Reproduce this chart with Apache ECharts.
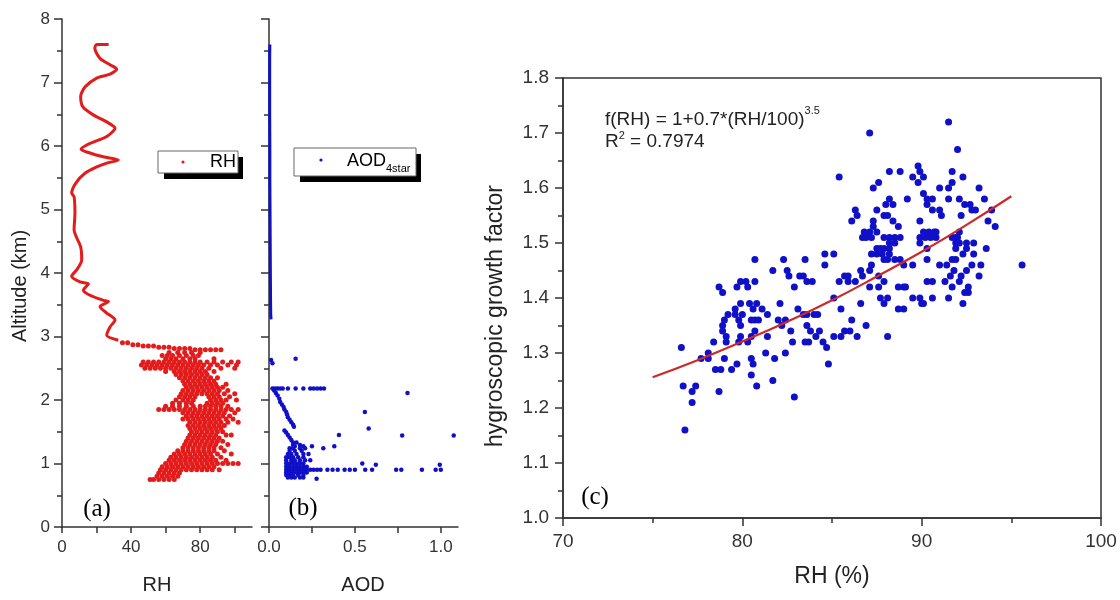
<!DOCTYPE html>
<html><head><meta charset="utf-8">
<script src="https://cdn.jsdelivr.net/npm/echarts@6/dist/echarts.min.js"></script>
<style>html,body{margin:0;padding:0;background:#fff}#c{width:1120px;height:600px}</style>
</head><body><div id="c"></div>
<script>
// ---------- Panel (a): RH profile [RH, altitude km] ----------
const rhUpperCurve = [[27,7.60],[20,7.60],[19,7.54],[22,7.38],[27.8,7.28],[31.7,7.21],[27.8,7.13],[20.1,7.07],[13.3,6.93],[10.8,6.78],[12,6.62],[18.1,6.49],[25.9,6.38],[30.7,6.28],[25.9,6.15],[16.2,6.04],[11,5.95],[16.2,5.89],[23.9,5.83],[32.6,5.78],[25.9,5.73],[20.1,5.67],[13.3,5.57],[8.1,5.42],[5.6,5.26],[7,5.2],[7.5,4.94],[7,4.68],[10.8,4.41],[11.4,4.2],[8.5,4.05],[5.6,3.95],[10.4,3.86],[15.3,3.83],[12.4,3.73],[16.2,3.65],[23.9,3.57],[26.9,3.55],[22,3.47],[25.9,3.37],[30.7,3.26],[27.8,3.15],[25.9,3.02],[32.6,2.94]];
// rows of the dense low-level cloud: [altitude, [RH values]]
const rhLowRows = [
 [2.90,[35,38]],[2.87,[41,44]],[2.85,[47,50,53]],[2.83,[56,59,62]],[2.81,[65,68,71,74]],[2.79,[77,80,83,86,89,92]],
 [2.75,[62,67,71,75,80]],[2.70,[58,61,64,68,72,76,79]],[2.65,[60,63,66,70,74,77,88]],
 [2.60,[47,50,53,56,59,62,65,68,71,74,77,80,84,88,93,98,102]],
 [2.55,[46,49,52,55,58,61,64,67,70,73,76,79,82,86,90,96,101]],
 [2.50,[48,51,54,57,60,63,66,69,72,75,78,81,85,92,100]],
 [2.45,[60,65,68,71,74,77,80,83,88]],[2.40,[66,69,72,75,78,81,84]],[2.35,[68,71,74,77,80,83,86,90]],
 [2.30,[70,73,76,79,82,85,88]],[2.25,[71,74,77,80,83,86,89,95]],[2.20,[72,75,78,81,84,87,90,93]],
 [2.15,[70,73,76,79,82,85,88,91,96]],[2.10,[69,72,75,78,81,84,87,90,94,100]],[2.05,[68,71,74,77,85,88,91,97]],
 [2.00,[66,70,73,76,86,89,92,95,101]],[1.95,[64,68,72,75,84,87,90,93]],[1.90,[60,64,68,72,76,80,83,86,89,92,96]],
 [1.85,[56,59,62,65,68,71,74,77,80,83,86,89,92,95,98,102]],[1.80,[70,73,76,79,82,85,88,91,94,100]],
 [1.75,[72,75,78,81,84,87,90,93,97]],[1.70,[70,73,76,79,82,85,88,91,95,99]],[1.65,[74,77,80,83,86,89,92,96,102]],
 [1.60,[73,76,79,82,85,88,91,94]],[1.55,[74,77,80,83,86,89,92]],[1.50,[75,78,81,84,87,90,93]],
 [1.45,[74,77,80,83,86,89,95,98]],[1.40,[73,76,79,82,85,88,91]],[1.35,[72,75,78,81,84,87,90,93]],
 [1.30,[71,74,77,80,83,86,89,96]],[1.25,[70,73,76,79,82,85,88,92]],[1.20,[67,70,73,76,79,82,85,88,94]],
 [1.15,[65,68,71,74,77,80,83,86,90,98]],[1.10,[63,66,69,72,75,78,81,84,87,92]],[1.05,[62,65,68,71,74,77,80,83,86,89,95]],
 [1.00,[60,63,66,69,72,75,78,81,84,87,90,93,96,99,102]],[0.95,[58,61,64,67,70,73,76,79,82,85,88]],
 [0.90,[57,60,63,66,69,72,75,78,81,84,87,91]],[0.85,[56,59,62,65,68]],[0.80,[55,58,61,64,67]],[0.75,[51,53,56,59,62,65]]
];
const rhTicksX = [0,20,40,60,80,100];
const rhLabelsX = [0,40,80];

// ---------- Panel (b): AOD profile [AOD, altitude km] ----------
const aodUpperLine = [[0.012,3.27],[0.010,3.35],[0.009,3.6],[0.008,4.0],[0.007,4.5],[0.006,5.0],[0.005,5.5],[0.005,6.0],[0.004,6.5],[0.004,7.0],[0.004,7.4],[0.005,7.6]];
const aodLowRows = [
 [2.65,[0.155]],[2.63,[0.012]],[2.58,[0.02]],
 [2.18,[0.02,0.035,0.05,0.065,0.08,0.11,0.155,0.2,0.24,0.26,0.28,0.3,0.32]],
 [2.15,[0.03]],[2.11,[0.04,0.806]],[2.07,[0.05]],[2.02,[0.06]],[1.97,[0.065]],[1.93,[0.075]],[1.89,[0.085]],
 [1.85,[0.09]],[1.81,[0.1,0.558]],[1.77,[0.105]],[1.73,[0.11]],[1.69,[0.12]],[1.65,[0.13]],[1.61,[0.14]],
 [1.58,[0.145]],[1.55,[0.58]],[1.52,[0.09]],[1.49,[0.1]],[1.45,[0.11,0.407]],[1.44,[0.775,1.075]],
 [1.41,[0.12]],[1.37,[0.13]],[1.33,[0.14,0.16]],[1.29,[0.14,0.18]],[1.27,[0.15,0.2,0.25,0.38]],
 [1.24,[0.12,0.14,0.18,0.21,0.316]],[1.20,[0.12,0.15,0.19]],[1.15,[0.11,0.13,0.16,0.2,0.23]],
 [1.10,[0.1,0.12,0.14,0.17,0.2]],[1.05,[0.1,0.13,0.15,0.18,0.21,0.24]],[1.00,[0.1,0.12,0.14,0.16,0.18,0.2,0.543]],
 [0.98,[0.622,0.994]],[0.95,[0.1,0.12,0.14,0.16,0.18,0.2,0.22]],
 [0.90,[0.1,0.12,0.14,0.16,0.18,0.2,0.22,0.24,0.26,0.28,0.3,0.34,0.37,0.4,0.44,0.47,0.5,0.56,0.6,0.74,0.77,0.89,0.97,1.0]],
 [0.86,[0.1,0.12,0.14,0.16,0.18,0.2,0.22]],[0.82,[0.1,0.12,0.14,0.17,0.2]],[0.78,[0.11,0.13,0.15,0.18,0.2]],[0.76,[0.277]]
];
const aodTicksX = [0,0.25,0.5,0.75,1.0];
const aodLabelsX = [0,0.5,1.0];

// ---------- Panel (c): growth factor vs RH [RH %, f(RH)] ----------
const gfPoints = [
[76.6,1.31],[76.7,1.24],[77.4,1.24],[77.2,1.23],[77.2,1.21],[76.8,1.16],
[77.7,1.29],[78.1,1.29],[78.1,1.30],[78.4,1.32],[78.5,1.27],[78.8,1.27],[78.7,1.23],[79.0,1.29],
[78.7,1.42],[78.9,1.41],[78.9,1.35],[78.9,1.34],[79.0,1.36],[79.1,1.33],[79.1,1.32],[79.2,1.37],
[79.4,1.27],[79.6,1.38],[79.6,1.37],[79.7,1.42],[79.7,1.28],[79.8,1.36],[79.8,1.32],[79.9,1.43],[79.9,1.39],[79.9,1.35],[79.9,1.33],
[80.2,1.43],[80.3,1.42],[80.0,1.37],[80.4,1.39],[80.3,1.32],[80.5,1.36],[80.5,1.33],[80.5,1.29],[80.5,1.26],[80.6,1.38],[80.6,1.28],[80.7,1.47],[80.7,1.43],[80.7,1.36],[80.7,1.34],[80.8,1.39],[80.8,1.24],[80.9,1.36],
[81.1,1.38],[81.3,1.30],[81.4,1.37],[81.4,1.33],[81.7,1.45],[81.7,1.25],[81.8,1.29],
[82.0,1.36],[82.1,1.39],[82.2,1.35],[82.3,1.47],[82.4,1.36],[82.4,1.30],[82.5,1.45],[82.6,1.44],[82.7,1.34],[82.8,1.32],[82.9,1.42],[82.9,1.22],
[83.1,1.38],[83.2,1.44],[83.4,1.44],[83.4,1.37],[83.5,1.47],[83.5,1.32],[83.6,1.43],[83.6,1.37],[83.6,1.35],[83.7,1.32],[83.8,1.34],[83.9,1.43],[84.0,1.37],[84.1,1.33],[84.2,1.37],[84.3,1.34],
[84.6,1.48],[84.6,1.46],[84.5,1.32],[84.7,1.31],[84.8,1.28],[85.1,1.33],[85.1,1.48],
[85.4,1.43],[85.9,1.43],[86.3,1.43],[87.1,1.42],[87.6,1.42],[88.7,1.42],[89.0,1.42],[89.1,1.42],[90.3,1.43],[90.6,1.43],[91.3,1.43],[91.6,1.44],[91.7,1.42],
[85.1,1.40],[87.7,1.40],[88.1,1.40],[87.9,1.39],[89.5,1.40],[89.9,1.40],[90.0,1.39],[90.1,1.39],[90.6,1.40],[91.5,1.40],[86.6,1.39],[85.5,1.38],[88.7,1.38],[89.0,1.38],
[86.1,1.36],[86.9,1.35],[85.7,1.34],[86.0,1.34],[85.5,1.33],[86.4,1.33],[88.1,1.33],
[91.5,1.72],[87.1,1.70],[92.0,1.67],[85.4,1.62],[88.2,1.63],[88.8,1.63],[89.8,1.64],[89.9,1.63],[90.1,1.62],[89.5,1.62],[89.8,1.61],[91.7,1.63],[91.7,1.61],[87.6,1.61],[87.3,1.60],[91.0,1.60],[91.5,1.60],[90.1,1.59],
[88.2,1.58],[88.4,1.57],[89.2,1.58],[90.3,1.58],[90.6,1.58],[91.5,1.58],[92.1,1.58],[88.0,1.57],[90.3,1.57],[90.6,1.56],[86.3,1.56],[86.4,1.55],[87.5,1.56],[86.1,1.54],[87.3,1.54],[87.9,1.55],[88.1,1.55],[88.4,1.54],[89.9,1.54],[91.0,1.56],[91.1,1.55],
[87.3,1.53],[87.5,1.52],[88.7,1.53],[87.1,1.52],[86.8,1.52],[86.7,1.51],[86.9,1.51],[87.2,1.51],[87.9,1.51],[88.2,1.51],[88.5,1.51],[88.8,1.51],[88.2,1.50],[88.5,1.50],
[90.1,1.52],[90.4,1.52],[90.7,1.52],[90.8,1.52],[89.9,1.51],[90.2,1.51],[90.5,1.51],[90.8,1.51],[91.7,1.51],[92.1,1.52],[89.9,1.50],[90.3,1.49],
[87.5,1.49],[87.7,1.49],[87.9,1.49],[87.5,1.48],[87.8,1.48],[88.2,1.49],[88.2,1.48],[87.2,1.48],
[87.9,1.47],[88.1,1.47],[88.5,1.47],[88.8,1.47],[89.0,1.46],[89.5,1.46],[91.0,1.46],[91.4,1.46],[91.7,1.47],[90.3,1.47],[87.2,1.46],[87.1,1.45],[86.6,1.45],[86.7,1.44],[85.7,1.44],[85.9,1.44],[87.6,1.44],[87.9,1.43],
[92.3,1.62],[93.2,1.60],[93.5,1.58],[92.4,1.57],[92.7,1.57],[92.8,1.56],[93.0,1.56],[93.9,1.56],[92.2,1.55],[93.7,1.54],[94.1,1.53],[95.6,1.46],
[91.9,1.51],[92.0,1.51],[91.9,1.50],[92.1,1.50],[92.5,1.50],[92.9,1.50],[91.9,1.49],[92.5,1.49],[93.6,1.49],[92.3,1.48],[92.9,1.48],[91.9,1.47],[92.8,1.46],[93.3,1.46],[91.8,1.45],[92.5,1.45],[92.2,1.44],[93.2,1.44],[92.1,1.43],[92.6,1.42],[92.4,1.41],[92.6,1.41],[92.3,1.39]
];
const fitRH = [75,77.5,80,82.5,85,87.5,90,92.5,95];
const fitGF = [1.256,1.287,1.321,1.357,1.396,1.439,1.484,1.533,1.585];

// ---------- build ----------
const RED = '#e31b1b', BLUE = '#1010c8', AX = '#333';
const SANS = '"Liberation Sans", Arial, sans-serif';
const SERIF = '"Liberation Serif", "Times New Roman", serif';
const flatRows = rows => rows.flatMap(([y, xs]) => xs.map(x => [x, y]));
const axLine = {show:true, onZero:false, lineStyle:{color:AX, width:1.5}};
const tickStyle = {color:AX, width:1.5};

const chart = echarts.init(document.getElementById('c'), null, {renderer:'canvas'});
chart.setOption({
  animation:false,
  backgroundColor:'#fff',
  grid:[
    {left:62, top:19, width:190, height:508},
    {left:269, top:19, width:189, height:508},
    {left:563, top:78, width:538, height:440, show:true, borderColor:AX, borderWidth:1.5, backgroundColor:'transparent'}
  ],
  xAxis:[
    {gridIndex:0, type:'value', min:0, max:110, axisLine:axLine,
     axisTick:{show:true, customValues:rhTicksX, length:6, lineStyle:tickStyle},
     axisLabel:{customValues:rhLabelsX, fontSize:17, color:AX, margin:12, fontFamily:SANS},
     splitLine:{show:false}},
    {gridIndex:1, type:'value', min:0, max:1.1, axisLine:axLine,
     axisTick:{show:true, customValues:aodTicksX, length:6, lineStyle:tickStyle},
     axisLabel:{customValues:aodLabelsX, fontSize:17, color:AX, margin:12, fontFamily:SANS, formatter:v=>v.toFixed(1)},
     splitLine:{show:false}},
    {gridIndex:2, type:'value', min:70, max:100, interval:10, axisLine:axLine,
     axisTick:{show:true, length:8, lineStyle:tickStyle},
     minorTick:{show:true, splitNumber:2, length:5, lineStyle:tickStyle},
     axisLabel:{fontSize:19, color:AX, margin:14, fontFamily:SANS},
     splitLine:{show:false}, minorSplitLine:{show:false}}
  ],
  yAxis:[
    {gridIndex:0, type:'value', min:0, max:8, interval:1, axisLine:axLine,
     axisTick:{show:true, length:8, lineStyle:tickStyle},
     minorTick:{show:true, splitNumber:2, length:5, lineStyle:tickStyle},
     axisLabel:{fontSize:17, color:AX, margin:12, fontFamily:SANS},
     splitLine:{show:false}, minorSplitLine:{show:false}},
    {gridIndex:1, type:'value', min:0, max:8, interval:1, axisLine:axLine,
     axisTick:{show:true, length:8, lineStyle:tickStyle},
     minorTick:{show:true, splitNumber:2, length:5, lineStyle:tickStyle},
     axisLabel:{show:false},
     splitLine:{show:false}, minorSplitLine:{show:false}},
    {gridIndex:2, type:'value', min:1.0, max:1.8, interval:0.1, axisLine:axLine,
     axisTick:{show:true, length:8, lineStyle:tickStyle},
     minorTick:{show:true, splitNumber:2, length:5, lineStyle:tickStyle},
     axisLabel:{fontSize:19, color:AX, margin:14, fontFamily:SANS, formatter:v=>v.toFixed(1)},
     splitLine:{show:false}, minorSplitLine:{show:false}}
  ],
  series:[
    {type:'line', xAxisIndex:0, yAxisIndex:0, data:rhUpperCurve, showSymbol:false, smooth:0.25,
     lineStyle:{color:RED, width:3}, silent:true},
    {type:'scatter', xAxisIndex:0, yAxisIndex:0, data:flatRows(rhLowRows), symbolSize:5,
     itemStyle:{color:RED, opacity:1}, silent:true},
    {type:'line', xAxisIndex:1, yAxisIndex:1, data:aodUpperLine, showSymbol:false,
     lineStyle:{color:BLUE, width:3}, silent:true},
    {type:'scatter', xAxisIndex:1, yAxisIndex:1, data:flatRows(aodLowRows), symbolSize:4.5,
     itemStyle:{color:BLUE, opacity:1}, silent:true},
    {type:'scatter', xAxisIndex:2, yAxisIndex:2, data:gfPoints, symbolSize:7,
     itemStyle:{color:BLUE, opacity:1}, silent:true, z:2},
    {type:'line', xAxisIndex:2, yAxisIndex:2, data:fitRH.map((x,i)=>[x, fitGF[i]]), showSymbol:false, smooth:true,
     lineStyle:{color:'#cc2a2a', width:2.2}, silent:true, z:5}
  ],
  graphic:[
    // legend RH
    {type:'rect', shape:{x:164, y:157, width:79, height:22}, style:{fill:'#000'}},
    {type:'rect', shape:{x:158, y:151, width:80, height:22}, style:{fill:'#fff', stroke:'#666', lineWidth:1}},
    {type:'circle', shape:{cx:183, cy:162, r:1.6}, style:{fill:RED}},
    {type:'text', x:210, y:162, style:{text:'RH', font:'18px '+SANS, fill:'#000', textVerticalAlign:'middle'}},
    // legend AOD
    {type:'rect', shape:{x:300, y:154, width:121, height:28}, style:{fill:'#000'}},
    {type:'rect', shape:{x:294, y:148, width:122, height:28}, style:{fill:'#fff', stroke:'#666', lineWidth:1}},
    {type:'circle', shape:{cx:321, cy:160, r:1.6}, style:{fill:BLUE}},
    {type:'text', x:347, y:161, style:{text:'{m|AOD}{s|4star}', fill:'#000', textVerticalAlign:'middle',
      rich:{m:{font:'18px '+SANS, fill:'#000', lineHeight:26, verticalAlign:'middle'},
            s:{font:'11px '+SANS, fill:'#000', lineHeight:12, verticalAlign:'bottom'}}}},
    // panel labels
    {type:'text', x:97, y:509, style:{text:'(a)', font:'25px '+SERIF, fill:'#000', textAlign:'center', textVerticalAlign:'middle'}},
    {type:'text', x:303, y:508, style:{text:'(b)', font:'25px '+SERIF, fill:'#000', textAlign:'center', textVerticalAlign:'middle'}},
    {type:'text', x:595, y:497, style:{text:'(c)', font:'25px '+SERIF, fill:'#000', textAlign:'center', textVerticalAlign:'middle'}},
    // annotation
    {type:'text', x:605, y:120, style:{text:'{m|f(RH) = 1+0.7*(RH/100)}{s|3.5}', textVerticalAlign:'middle',
      rich:{m:{font:'19px '+SANS, fill:'#222', lineHeight:30, verticalAlign:'middle'},
            s:{font:'11px '+SANS, fill:'#222', lineHeight:12, verticalAlign:'top'}}}},
    {type:'text', x:605, y:142, style:{text:'{m|R}{s|2}{m| = 0.7974}', textVerticalAlign:'middle',
      rich:{m:{font:'19px '+SANS, fill:'#222', lineHeight:24, verticalAlign:'middle'},
            s:{font:'11px '+SANS, fill:'#222', lineHeight:12, verticalAlign:'top'}}}},
    // axis titles
    {type:'text', x:20, y:286, rotation:Math.PI/2, style:{text:'Altitude (km)', font:'20px '+SANS, fill:'#222', textAlign:'center', textVerticalAlign:'middle'}},
    {type:'text', x:157, y:585, style:{text:'RH', font:'20px '+SANS, fill:'#222', textAlign:'center', textVerticalAlign:'middle'}},
    {type:'text', x:363, y:585, style:{text:'AOD', font:'20px '+SANS, fill:'#222', textAlign:'center', textVerticalAlign:'middle'}},
    {type:'text', x:496, y:316, rotation:Math.PI/2, style:{text:'hygroscopic growth factor', font:'23px '+SANS, fill:'#222', textAlign:'center', textVerticalAlign:'middle'}},
    {type:'text', x:832, y:577, style:{text:'RH (%)', font:'23px '+SANS, fill:'#222', textAlign:'center', textVerticalAlign:'middle'}}
  ]
});
</script></body></html>
